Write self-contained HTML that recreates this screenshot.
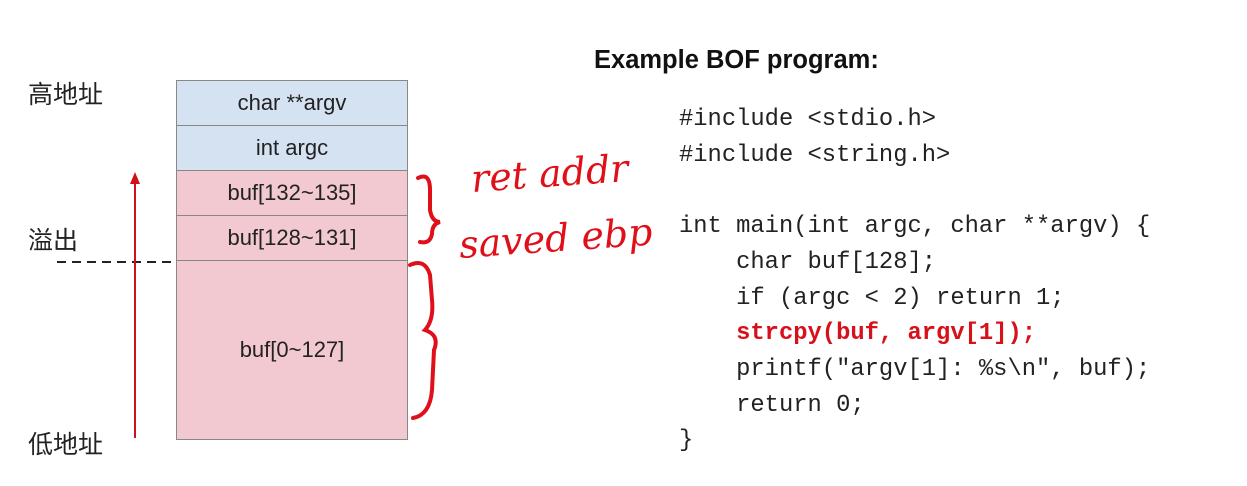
<!DOCTYPE html>
<html><head><meta charset="utf-8"><style>
body{margin:0;width:1247px;height:486px;background:#fff;position:relative;overflow:hidden;font-family:"Liberation Sans","Noto Sans CJK SC",sans-serif}
.cell{position:absolute;left:176px;width:232px;border:1px solid #888;box-sizing:border-box;display:flex;align-items:center;justify-content:center;font-size:22px;color:#222}
.b{background:#d4e2f2}.p{background:#f2c9d1}
.lab{position:absolute;font-size:25px;color:#222;line-height:30px}
pre{position:absolute;left:679px;top:102px;margin:0;font-family:"Liberation Mono",monospace;font-size:23.8px;line-height:35.7px;color:#222}
</style></head><body>
<div class="lab" style="left:28px;top:80px">高地址</div>
<div class="lab" style="left:28px;top:226px">溢出</div>
<div class="lab" style="left:28px;top:430px">低地址</div>
<div class="cell b" style="top:80px;height:46px">char **argv</div>
<div class="cell b" style="top:125px;height:46px">int argc</div>
<div class="cell p" style="top:170px;height:46px">buf[132~135]</div>
<div class="cell p" style="top:215px;height:46px">buf[128~131]</div>
<div class="cell p" style="top:260px;height:180px">buf[0~127]</div>
<svg width="1247" height="486" style="position:absolute;left:0;top:0">
<line x1="57" y1="262" x2="176" y2="262" stroke="#222" stroke-width="2" stroke-dasharray="9,6"/>
<line x1="135" y1="180" x2="135" y2="438" stroke="#d0101a" stroke-width="2"/>
<polygon points="135,172 130,184 140,184" fill="#d0101a"/>
<path d="M418,178 Q430,172 430,190 L430,210 Q432,222 440,222 Q432,224 432,234 Q430,244 420,242" fill="none" stroke="#e0101a" stroke-width="4" stroke-linecap="round"/>
<path d="M410,265 Q425,258 430,275 L432,300 Q434,320 425,330 Q440,335 434,350 L432,390 Q430,415 413,418" fill="none" stroke="#e0101a" stroke-width="4" stroke-linecap="round"/>
<text x="472" y="192" font-family="DejaVu Serif,serif" font-style="italic" font-size="38" fill="#e0101a" transform="rotate(-4 472 192)">ret addr</text>
<text x="460" y="258" font-family="DejaVu Serif,serif" font-style="italic" font-size="38" fill="#e0101a" transform="rotate(-4 460 258)">saved ebp</text>
</svg>
<div style="position:absolute;left:594px;top:46px;font-size:25.5px;font-weight:bold;color:#111">Example BOF program:</div>
<pre>#include &lt;stdio.h&gt;
#include &lt;string.h&gt;

int main(int argc, char **argv) {
    char buf[128];
    if (argc &lt; 2) return 1;
    <b style="color:#d8101a">strcpy(buf, argv[1]);</b>
    printf("argv[1]: %s\n", buf);
    return 0;
}</pre>
</body></html>
